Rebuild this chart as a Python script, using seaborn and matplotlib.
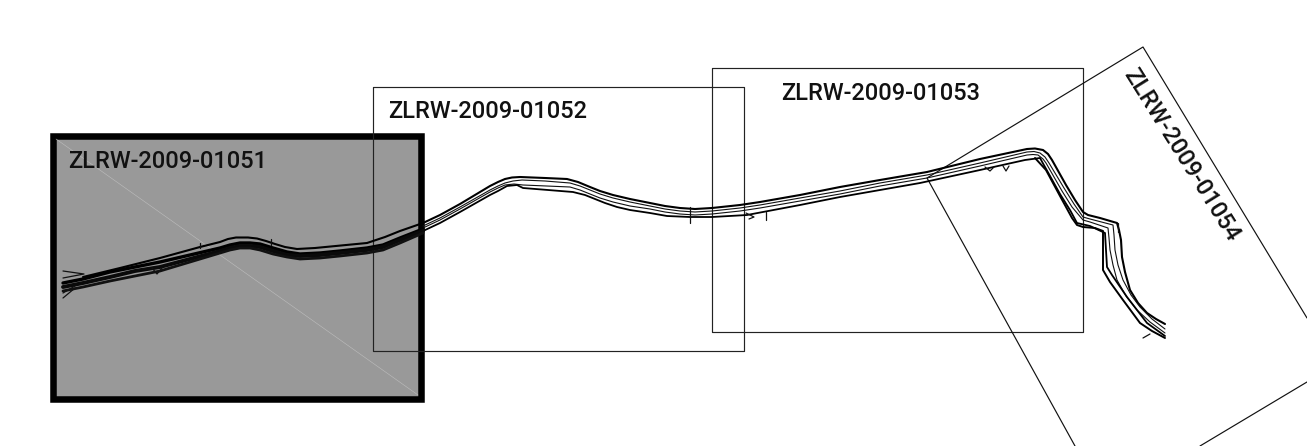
import matplotlib
matplotlib.use("Agg")
import matplotlib.pyplot as plt
import seaborn as sns

sns.set_theme(style="white")
plt.rcParams['font.family'] = ['Roboto', 'DejaVu Sans']

sheet_names = ['ZLRW-2009-01051', 'ZLRW-2009-01052', 'ZLRW-2009-01053', 'ZLRW-2009-01054']

# sheet frames, pixel coordinates of the drawing
frame1_x = [52.5, 421, 421, 52.5]
frame1_y = [136, 136, 398.5, 398.5]
diag_x = [56, 418]
diag_y = [139, 395]
frame2_x = [373, 744, 744, 373, 373]
frame2_y = [87, 87, 351, 351, 87]
frame3_x = [712, 1083, 1083, 712, 712]
frame3_y = [68, 68, 332, 332, 68]
frame4a_x = [1307, 1143, 927, 1075]
frame4a_y = [318, 47, 178, 446]
frame4b_x = [1200, 1307]
frame4b_y = [446, 382]

# road edge strands
top_x = [83, 120, 160, 200, 220, 228, 236, 248, 257, 266, 275, 285, 297, 315, 367, 385, 400, 423, 440, 460, 490, 498, 505, 512, 520, 545, 567, 578, 590, 600, 613, 630, 650, 665, 680, 695, 712, 740, 760, 800, 840, 880, 927, 980, 1027, 1035, 1043, 1048, 1052, 1066, 1075, 1083, 1088, 1100, 1117, 1119, 1121, 1122, 1125, 1130, 1138, 1147, 1156, 1165]
top_y = [277, 268, 258, 247, 242, 239, 237.5, 237.5, 238.5, 241, 244, 247, 249, 248, 243, 237, 231, 223, 215, 204, 186, 182, 179, 177.5, 177, 178, 179, 182, 187, 191, 195, 199, 203, 206, 208, 209, 208, 205, 202, 195, 187, 180, 172, 159, 149, 148.5, 150, 154, 160, 185, 200, 212, 215, 218, 223, 230, 240, 257, 272, 290, 303, 313, 319, 324]

second_x = [423, 440, 460, 490, 498, 505, 513, 522, 545, 570, 580, 590, 600, 613, 630, 650, 665, 680, 695, 712, 740, 760, 800, 840, 880, 927, 980, 1027, 1034, 1040, 1045, 1049, 1064, 1074, 1083, 1090, 1113, 1114, 1115, 1118, 1123, 1131, 1140, 1152, 1165]
second_y = [226, 218, 207, 190, 186, 183, 181, 180, 181, 183, 186, 190, 194, 198, 202, 206, 209, 211, 212, 211, 208, 205, 198, 191, 183, 175, 163, 152, 151.5, 153, 157, 163, 188, 204, 217, 219, 225, 235, 250, 265, 280, 295, 307, 319, 329]

third_x = [423, 440, 460, 490, 498, 505, 514, 523, 570, 580, 590, 600, 613, 630, 650, 665, 680, 695, 712, 740, 760, 800, 840, 880, 927, 980, 1027, 1033, 1038, 1043, 1046, 1062, 1072, 1083, 1090, 1108, 1109, 1110, 1113, 1117, 1126, 1137, 1150, 1165]
third_y = [228, 220, 209, 192, 188, 185, 184, 185, 187, 190, 194, 198, 202, 206, 209, 212, 214, 215, 214, 211, 208, 201, 194, 186, 178, 166, 155, 154.5, 155, 159, 163, 191, 207, 220, 222, 228, 238, 250, 265, 280, 296, 310, 322, 333]

fourth_x = [423, 440, 460, 490, 498, 507, 517, 523, 573, 585, 595, 605, 617, 630, 650, 667, 690, 712, 747, 800, 840, 880, 920, 980, 1025, 1040, 1060, 1070, 1077, 1090, 1105, 1106, 1107, 1112, 1127, 1147, 1165]
fourth_y = [231, 223, 212, 195, 191, 186, 185, 188, 192, 195, 199, 203, 207, 210, 213, 216, 217, 217, 215, 205, 197, 190, 183, 170, 160, 158, 194, 210, 223, 226, 233, 250, 267, 275, 297, 323, 336]

fifth_x = [1035, 1046, 1060, 1072, 1077, 1083, 1095, 1103, 1103, 1103, 1110, 1123, 1140, 1152, 1165]
fifth_y = [158, 170, 196, 218, 225, 227, 228, 231, 250, 270, 282, 300, 323, 331, 338]

# dense band on the first sheet
band_x = [63, 83, 110, 135, 160, 190, 220, 230, 240, 250, 260, 273, 287, 300, 320, 340, 367, 383, 400, 423]
band_top_y = [283, 279, 272, 267, 262, 255, 248, 245, 243, 243, 244, 248, 252, 254, 253, 251, 248, 245, 238, 229]
band_mid_y = [287, 283, 277, 271, 267, 259, 251, 248, 246, 246, 247, 251, 255, 256, 255, 253, 250, 247, 240, 231]
band_low_y = [291, 287, 281, 276, 271, 262, 253, 250, 248, 248, 250, 254, 257, 259, 258, 256, 253, 250, 243, 233]

# small details along the road
detail_x = [[63, 84, 63], [63, 75], [63, 75], [152, 157, 162], [200, 200], [271, 271], [690, 690], [746, 754, 749], [766, 766], [1143, 1150], [985, 990, 994], [1003, 1006, 1009], [1118, 1118]]
detail_y = [[271, 274, 278], [298, 288], [293, 286], [268, 274, 268], [243, 248], [239, 245], [207, 223], [213, 217, 219], [212, 220], [338, 334], [167, 171, 167], [166, 171, 166], [223, 232]]


def draw(xs, ys, width=0.8, color='#111111', **kw):
    sns.lineplot(x=xs, y=ys, sort=False, estimator=None, color=color, linewidth=width, ax=ax, **kw)


fig = plt.figure(figsize=(13.07, 4.46), dpi=100)
ax = fig.add_axes([0, 0, 1, 1])

ax.fill(frame1_x, frame1_y, facecolor='#999999', edgecolor='black', linewidth=4.7, joinstyle='miter', zorder=1)
draw(diag_x, diag_y, width=0.4, color='#bdbdbd', zorder=1.5)

draw(frame2_x, frame2_y, width=0.85, color='#222222')
draw(frame3_x, frame3_y, width=0.85, color='#222222')
draw(frame4a_x, frame4a_y, width=0.85, color='#111111')
draw(frame4b_x, frame4b_y, width=0.85, color='#111111')

draw(top_x, top_y, width=1.5, color='black')
draw(second_x, second_y, width=0.8)
draw(third_x, third_y, width=0.8)
draw(fourth_x, fourth_y, width=1.3, color='black')
draw(fifth_x, fifth_y, width=1.4, color='black')
draw(band_x, band_top_y, width=2.4, color='black')
draw(band_x, band_mid_y, width=2.8, color='#0a0a0a')
draw(band_x, band_low_y, width=2.0, color='#111111')
for dx, dy in zip(detail_x, detail_y):
    draw(dx, dy, width=0.9)

label_font = dict(fontsize=17, fontweight='medium', color='#111111', va='center', ha='center')
ax.text(167.5, 162, sheet_names[0], **label_font)
ax.text(488, 112, sheet_names[1], **label_font)
ax.text(881, 93, sheet_names[2], **label_font)
ax.text(1181, 155, sheet_names[3], rotation=-58, rotation_mode='anchor', **label_font)

ax.set_xlim(0, 1307)
ax.set_ylim(446, 0)
ax.axis('off')
fig.savefig('out.png', dpi=100, facecolor='white')
